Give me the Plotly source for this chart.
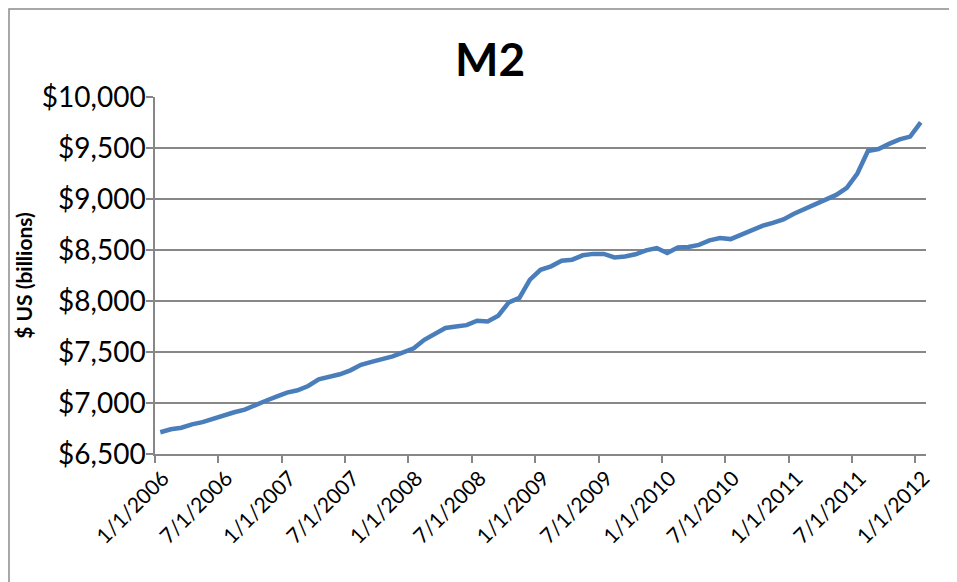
import plotly.graph_objects as go

months = [f"{mo}/1/{yr}" for yr in range(2006, 2013) for mo in range(1, 13)][:73]
m2_values = [
    6713, 6742, 6758, 6791, 6812, 6846, 6883, 6909, 6935, 6983, 7022, 7062,   # 2006
    7102, 7125, 7167, 7231, 7256, 7282, 7320, 7374, 7403, 7428, 7457, 7496,   # 2007
    7536, 7619, 7673, 7735, 7749, 7763, 7806, 7800, 7856, 7986, 8030, 8210,   # 2008
    8306, 8340, 8395, 8405, 8448, 8462, 8462, 8427, 8436, 8458, 8497, 8519,   # 2009
    8470, 8525, 8529, 8550, 8594, 8617, 8607, 8650, 8692, 8737, 8765, 8800,   # 2010
    8855, 8900, 8950, 8993, 9040, 9110, 9250, 9470, 9490, 9540, 9585, 9612,   # 2011
    9752,                                                                      # 2012
]
tick_labels = ["1/1/2006", "7/1/2006", "1/1/2007", "7/1/2007", "1/1/2008", "7/1/2008",
               "1/1/2009", "7/1/2009", "1/1/2010", "7/1/2010", "1/1/2011", "7/1/2011",
               "1/1/2012"]

# category-style month index: each month is one band, point at band centre
x_pos = [i + 0.5 for i in range(len(months))]
tick_pos = [months.index(t) for t in tick_labels]

FONT = "Lato, Calibri, Liberation Sans, sans-serif"
GRID = "#878787"

# the page body adds an 8px offset, so the figure is 8px smaller than the window
W, H = 949, 574
L, R, T, B = 147, 31, 89, 128
PW, PH = W - L - R, H - T - B

fig = go.Figure()
fig.add_trace(go.Scatter(
    x=x_pos, y=m2_values, mode="lines",
    line=dict(color="#4A7EBB", width=4.5),
    customdata=months, hovertemplate="%{customdata}: $%{y:,}<extra></extra>",
    showlegend=False,
))

fig.update_layout(
    width=W, height=H,
    paper_bgcolor="white", plot_bgcolor="white",
    margin=dict(l=L, r=R, t=T, b=B, autoexpand=False),
    font=dict(family=FONT, color="black"),
    title=dict(text="<b>M2</b>", x=(490 - 8) / W, xanchor="center", y=1 - 52 / H, yanchor="middle",
               font=dict(size=46, family=FONT, color="black")),
    xaxis=dict(
        range=[0, 73], tickmode="array", tickvals=tick_pos, ticktext=tick_labels,
        tickangle=-45, tickfont=dict(size=21, family=FONT), automargin=False,
        ticklabelshift=8, ticklabelstandoff=-5,
        showgrid=False, zeroline=False,
        showline=True, linecolor=GRID, linewidth=1.5,
        ticks="outside", ticklen=7, tickcolor=GRID, tickwidth=1.5,
    ),
    yaxis=dict(
        range=[6500, 10000], dtick=500, tick0=6500, automargin=False,
        tickprefix="$", tickformat=",d", tickfont=dict(size=28, family=FONT),
        ticklabelstandoff=-5,
        showgrid=True, gridcolor=GRID, gridwidth=1.5, zeroline=False,
        showline=True, linecolor=GRID, linewidth=1.5,
        ticks="outside", ticklen=7, tickcolor=GRID, tickwidth=1.5,
        title=dict(text="<b>$ US (billions)</b>", font=dict(size=21, family=FONT), standoff=4),
    ),
    shapes=[dict(type="rect", xref="paper", yref="paper",
                 x0=-(L - 1) / PW, x1=(942 - L) / PW,
                 y0=-(H + 10 - (H - B)) / PH, y1=((H - B) - 1) / PH,
                 line=dict(color="#8C8C8C", width=1.5), fillcolor="rgba(0,0,0,0)", layer="below")],
)

fig.write_html("out.html")
